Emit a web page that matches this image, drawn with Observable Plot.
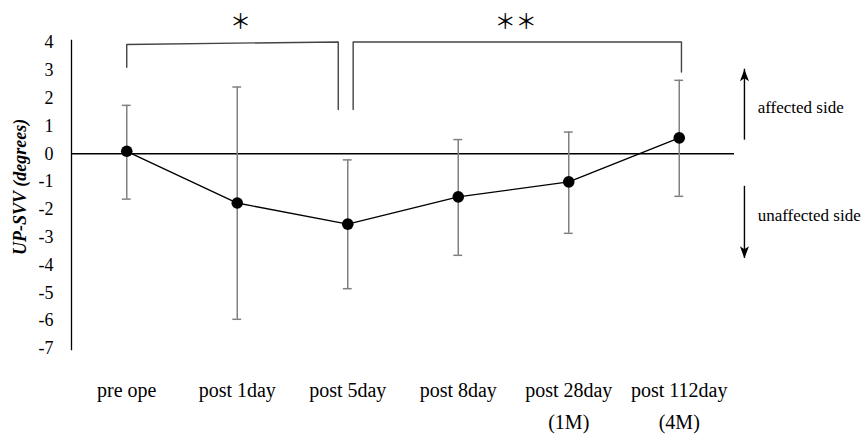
<!DOCTYPE html>
<html>
<head>
<meta charset="utf-8">
<script src="https://cdn.jsdelivr.net/npm/d3@7"></script>
<script src="https://cdn.jsdelivr.net/npm/@observablehq/plot@0.6"></script>
<style>
  html, body { margin: 0; padding: 0; background: #fff; }
  #chart svg { display: block; }
</style>
</head>
<body>
<div id="chart"></div>
<script>
// ---- data ----
const categories = ["pre ope", "post 1day", "post 5day", "post 8day", "post 28day\n(1M)", "post 112day\n(4M)"];
const meanValues = [0.09, -1.77, -2.53, -1.55, -1.01, 0.57];
const upperValues = [1.74, 2.40, -0.22, 0.51, 0.78, 2.64];
const lowerValues = [-1.63, -5.95, -4.85, -3.65, -2.86, -1.53];
const yTicks = [-7, -6, -5, -4, -3, -2, -1, 0, 1, 2, 3, 4];
const yLabel = "UP-SVV (degrees)";

// significance brackets (category index, value units)
const bracket1 = [[0, 3.11], [0, 3.93], [1.914, 4.02], [1.914, 1.59]];
const bracket2 = [[2.049, 1.59], [2.049, 4.02], [5.02, 4.02], [5.02, 2.94]];
const stars = [{x: 1.03, y: 4.71, label: "＊"}, {x: 3.52, y: 4.71, label: "＊＊"}];

// direction annotations
const arrows = [
  {x: 5.59, from: 0.49, to: 3.04, rot: 0},
  {x: 5.59, from: -1.17, to: -3.76, rot: 180}
];
const sideLabels = [{x: 5.71, y: 1.65, label: "affected side"}, {x: 5.71, y: -2.21, label: "unaffected side"}];
const titlePos = [{x: -0.962, y: -1.19, label: yLabel}];

const rows = categories.map((c, i) => ({i, c, mean: meanValues[i], hi: upperValues[i], lo: lowerValues[i]}));

const arrowHead = {
  draw(ctx) {
    ctx.moveTo(0, 0);
    ctx.lineTo(4.5, 12);
    ctx.lineTo(0, 9);
    ctx.lineTo(-4.5, 12);
    ctx.closePath();
  }
};

const capHalf = 0.04;

const chart = Plot.plot({
  width: 862,
  height: 434,
  marginLeft: 71,
  marginRight: 17.5,
  marginTop: 42,
  marginBottom: 86,
  style: {fontFamily: "'Liberation Serif', 'Times New Roman', serif", fontSize: "18px", background: "#fff", color: "#000"},
  x: {domain: [-0.5, 6.5]},
  y: {domain: [-7, 4]},
  marks: [
    Plot.axisY({ticks: yTicks, tickFormat: d => String(d), tickSize: 0, tickPadding: 18, fontSize: 18, label: null}),
    Plot.axisX({ticks: d3.range(categories.length), tickFormat: i => categories[i], tickSize: 0, tickPadding: 25, fontSize: 20, lineHeight: 1.62, label: null}),
    Plot.ruleX([-0.5], {y1: -7.08, y2: 4.08, stroke: "#000", strokeWidth: 1.3}),
    Plot.ruleY([0], {x1: -0.5, x2: 5.5, stroke: "#000", strokeWidth: 1.3}),
    // error bars
    Plot.ruleX(rows, {x: "i", y1: "lo", y2: "hi", stroke: "#808080", strokeWidth: 1.5}),
    Plot.ruleY(rows, {y: "hi", x1: d => d.i - capHalf, x2: d => d.i + capHalf, stroke: "#808080", strokeWidth: 1.5}),
    Plot.ruleY(rows, {y: "lo", x1: d => d.i - capHalf, x2: d => d.i + capHalf, stroke: "#808080", strokeWidth: 1.5}),
    // mean line + dots
    Plot.line(rows, {x: "i", y: "mean", stroke: "#000", strokeWidth: 1.4}),
    Plot.dot(rows, {x: "i", y: "mean", r: 5.8, fill: "#000", stroke: "none"}),
    // brackets
    Plot.line(bracket1, {x: d => d[0], y: d => d[1], stroke: "#444", strokeWidth: 1.4}),
    Plot.line(bracket2, {x: d => d[0], y: d => d[1], stroke: "#444", strokeWidth: 1.4}),
    Plot.text(stars, {x: "x", y: "y", text: "label", fontFamily: "'Noto Sans CJK JP', sans-serif", fontSize: 21, fill: "#000"}),
    // arrows
    Plot.ruleX(arrows, {x: "x", y1: "from", y2: "to", stroke: "#000", strokeWidth: 1.4}),
    Plot.dot(arrows, {x: "x", y: "to", symbol: arrowHead, rotate: "rot", r: 5, fill: "#000", stroke: "none"}),
    Plot.text(sideLabels, {x: "x", y: "y", text: "label", textAnchor: "start", fontSize: 17, fill: "#000"}),
    // y title
    Plot.text(titlePos, {x: "x", y: "y", text: "label", rotate: -90, fontSize: 18, fontWeight: "bold", fontStyle: "italic", fill: "#000"})
  ]
});

document.getElementById("chart").appendChild(chart);
</script>
</body>
</html>
